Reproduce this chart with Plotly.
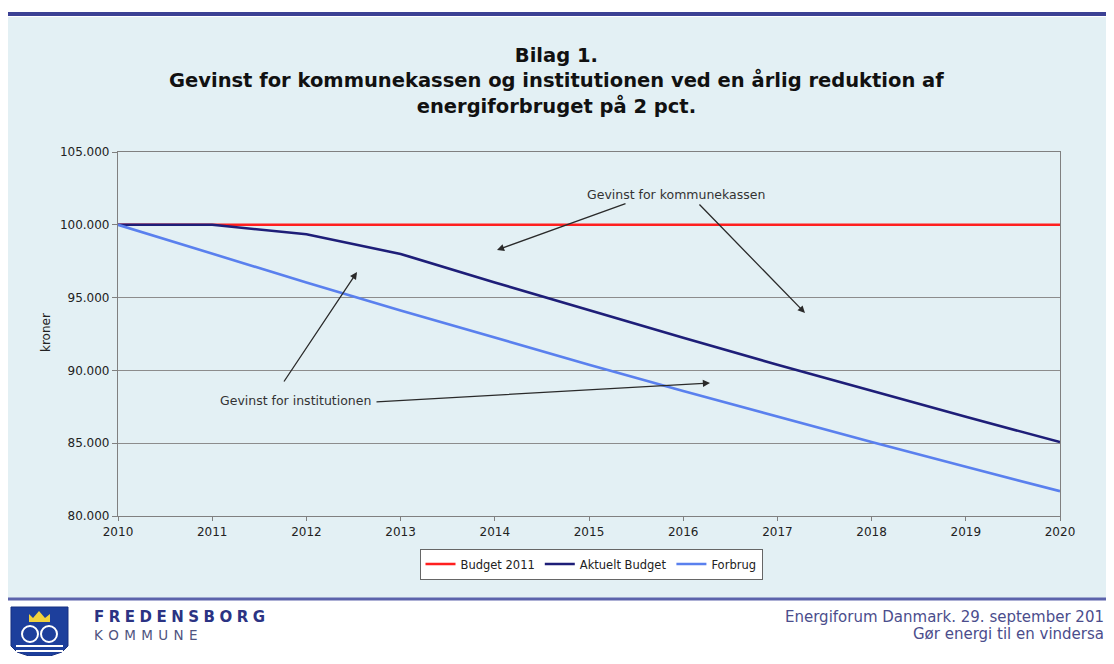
import plotly.graph_objects as go

years = [2010, 2011, 2012, 2013, 2014, 2015, 2016, 2017, 2018, 2019, 2020]
budget_2011 = [100000, 100000, 100000, 100000, 100000, 100000, 100000, 100000, 100000, 100000, 100000]
aktuelt_budget = [100000, 100000, 99350, 98000, 96040, 94119, 92237, 90392, 88584, 86813, 85076]
forbrug = [100000, 98000, 96040, 94119, 92237, 90392, 88584, 86813, 85076, 83375, 81707]
y_ticks = [80000, 85000, 90000, 95000, 100000, 105000]
x_ticks = years

# page geometry (the html body adds an 8px margin on every side)
PAGE_W, PAGE_H = 1114, 664
OFF = 8
VIS_R = PAGE_W - OFF  # right edge of what the page shows
L, R, T, B = 118, 1060, 152, 516


def px(x):
    return (x - L) / (R - L)


def py(y):
    return (B - y) / (B - T)


def dx(x):
    return 2010 + (x - L) / (R - L) * 10


def dy(y):
    return 80000 + (B - y) / (B - T) * 25000


BG = "#e3f0f4"
FONT = "DejaVu Sans"

fig = go.Figure()
fig.add_trace(go.Scatter(x=years, y=budget_2011, name="Budget 2011", mode="lines",
                         line=dict(color="#ff1f1f", width=2.6)))
fig.add_trace(go.Scatter(x=years, y=aktuelt_budget, name="Aktuelt Budget", mode="lines",
                         line=dict(color="#1e1e78", width=2.6)))
fig.add_trace(go.Scatter(x=years, y=forbrug, name="Forbrug", mode="lines",
                         line=dict(color="#5a80ee", width=2.6)))

shapes = [
    dict(type="rect", xref="paper", yref="paper", x0=px(0), x1=px(PAGE_W + 10), y0=py(598), y1=py(17),
         fillcolor=BG, line=dict(width=0), layer="below"),
    dict(type="line", xref="paper", yref="paper", x0=px(0), x1=px(PAGE_W + 10), y0=py(14), y1=py(14),
         line=dict(color="#3b4194", width=4)),
    dict(type="line", xref="paper", yref="paper", x0=px(0), x1=px(PAGE_W + 10), y0=py(599), y1=py(599),
         line=dict(color="#5c63ab", width=3)),
]


def pth(points):
    s = ""
    for i, (a, b) in enumerate(points):
        s += ("M" if i == 0 else "L") + f"{px(a):.5f},{py(b):.5f} "
    return s + "Z"


shield = pth([(11, 607), (68, 607), (68, 646), (62, 652), (50, 656), (29, 656), (17, 652), (11, 646)])
shapes.append(dict(type="path", xref="paper", yref="paper", path=shield,
                   fillcolor="#1d3f9c", line=dict(color="#173080", width=1)))
crown = pth([(29, 622), (29, 614), (33, 618), (39, 611), (45, 618), (50, 614), (50, 622)])
shapes.append(dict(type="path", xref="paper", yref="paper", path=crown,
                   fillcolor="#f2d23c", line=dict(width=0)))
for yy in (646, 651):
    shapes.append(dict(type="line", xref="paper", yref="paper", x0=px(16), x1=px(63), y0=py(yy), y1=py(yy),
                       line=dict(color="white", width=2)))
shapes.append(dict(type="circle", xref="paper", yref="paper", x0=px(22), x1=px(38), y0=py(642), y1=py(626),
                   line=dict(color="white", width=2)))
shapes.append(dict(type="circle", xref="paper", yref="paper", x0=px(41), x1=px(57), y0=py(642), y1=py(626),
                   line=dict(color="white", width=2)))

annotations = [
    dict(xref="paper", yref="paper", x=px(556), y=py(42), xanchor="center", yanchor="top",
         text="<b>Bilag 1.<br>Gevinst for kommunekassen og institutionen ved en årlig reduktion af<br>energiforbruget på 2 pct.</b>",
         showarrow=False, font=dict(family=FONT, size=19.5, color="#111111"), align="center"),
    dict(xref="paper", yref="paper", x=px(37), y=py(333), textangle=-90,
         text="kroner", showarrow=False, font=dict(family=FONT, size=12, color="#222222")),
    dict(x=dx(676), y=dy(194), text="Gevinst for kommunekassen", showarrow=False,
         font=dict(family=FONT, size=12.5, color="#333333")),
    dict(x=dx(295), y=dy(400), text="Gevinst for institutionen", showarrow=False,
         font=dict(family=FONT, size=12.5, color="#333333")),
    dict(xref="paper", yref="paper", x=px(92), y=py(628), xanchor="left",
         text="<b>" + "\u2009\u200a".join("FREDENSBORG") + "</b>", showarrow=False,
         font=dict(family=FONT, size=15, color="#2b3383")),
    dict(xref="paper", yref="paper", x=px(92), y=py(645), xanchor="left",
         text="\u2009\u2009".join("KOMMUNE"), showarrow=False,
         font=dict(family=FONT, size=13.5, color="#4f5480")),
    dict(xref="paper", yref="paper", x=px(VIS_R), y=py(628), xanchor="right",
         text="Energiforum Danmark. 29. september 201", showarrow=False,
         font=dict(family=FONT, size=15, color="#4b4d8c")),
    dict(xref="paper", yref="paper", x=px(VIS_R), y=py(645), xanchor="right",
         text="Gør energi til en vindersa", showarrow=False,
         font=dict(family=FONT, size=15, color="#4b4d8c")),
]

arrows = [((627, 203), (497, 250)), ((698, 203), (805, 313)),
          ((283, 383), (357, 272)), ((375, 402), (710, 383))]
for (tx, ty), (hx, hy) in arrows:
    annotations.append(dict(x=dx(hx), y=dy(hy), ax=dx(tx), ay=dy(ty), xref="x", yref="y",
                            axref="x", ayref="y", text="", showarrow=True, arrowhead=2,
                            arrowsize=1.1, arrowwidth=1.3, arrowcolor="#2a2a2a"))

fig_w = PAGE_W - 2 * OFF
fig_h = PAGE_H - 2 * OFF
fig.update_layout(
    width=fig_w, height=fig_h,
    margin=dict(l=L - OFF, r=fig_w - (R - OFF), t=T - OFF, b=fig_h - (B - OFF), pad=0),
    paper_bgcolor="white", plot_bgcolor=BG,
    separators=",.",
    showlegend=True,
    legend=dict(orientation="h", x=px(591), y=py(564), xanchor="center", yanchor="middle",
                bgcolor="white", bordercolor="#666666", borderwidth=1,
                font=dict(family=FONT, size=11.5, color="#222222"),
                itemwidth=30, tracegroupgap=0),
    shapes=shapes, annotations=annotations,
    font=dict(family=FONT),
)
fig.update_xaxes(range=[2010, 2020], tickvals=x_ticks, ticks="outside", ticklen=4,
                 tickcolor="#808080", showline=True, linecolor="#808080", linewidth=1.2,
                 mirror=True, showgrid=False, zeroline=False,
                 tickfont=dict(family=FONT, size=12, color="#222222"))
fig.update_yaxes(range=[80000, 105000], tickvals=y_ticks, tickformat=",.0f", ticks="outside",
                 ticklen=5, tickcolor="#808080", showline=True, linecolor="#808080", linewidth=1.2,
                 mirror=True, showgrid=True, gridcolor="#8c8c8c", gridwidth=1.2, zeroline=False,
                 tickfont=dict(family=FONT, size=12, color="#222222"))

fig.write_html("out.html")
